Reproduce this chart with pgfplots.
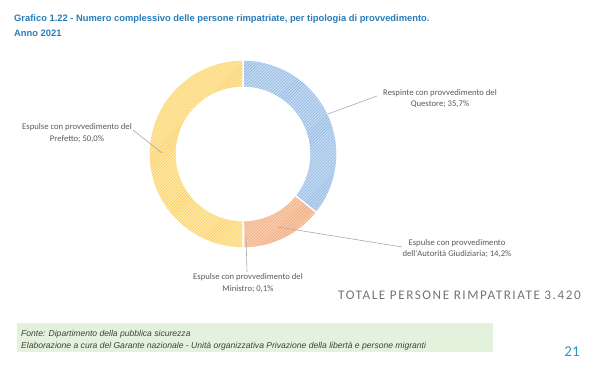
\documentclass[border=0pt]{standalone}
\usepackage{pgfplots}
\pgfplotsset{compat=1.18}
\usetikzlibrary{patterns}
\usepackage{fontspec}
\setmainfont{Liberation Sans}
\newfontfamily\lab{Carlito}
\newfontfamily\totfont[LetterSpace=12]{Carlito}
\definecolor{titleblue}{RGB}{38,124,184}
\definecolor{blueL}{RGB}{196,218,241}
\definecolor{blueD}{RGB}{132,176,224}
\definecolor{orL}{RGB}{249,207,178}
\definecolor{orD}{RGB}{238,155,105}
\definecolor{yeL}{RGB}{255,232,168}
\definecolor{yeD}{RGB}{247,200,80}
\definecolor{labgray}{RGB}{90,90,90}
\definecolor{leader}{RGB}{170,170,170}
\definecolor{boxgreen}{RGB}{228,241,221}
\definecolor{pagenum}{RGB}{45,150,190}
% data: share in percent (clockwise from the top)
% Respinte Questore 35.7 ; Autorita Giudiziaria 14.2 ; Ministro 0.1 ; Prefetto 50.0
\newcommand\slice[3]{% start, end (cumulative %), colours
  \addplot[draw=white, line width=1.1pt, fill=#3L,
    postaction={pattern=north east lines, pattern color=#3D},
    domain=#1:#2, samples=80, variable=\t]
    ({243+94*cos(90-3.6*\t)},{154-94*sin(90-3.6*\t)}) -- (axis cs:243,154) -- cycle;}
\begin{document}
\begin{tikzpicture}
\begin{axis}[scale only axis, width=600bp, height=382bp,
  xmin=0, xmax=600, ymin=0, ymax=382, y dir=reverse,
  hide axis, clip=false]
\slice{0}{35.7}{blue}
\slice{35.7}{49.9}{or}
\slice{49.9}{50.0}{ye}
\slice{50.0}{100}{ye}
\addplot[fill=white, draw=white, line width=0.5pt, domain=0:360, samples=120, variable=\t]
  ({243+67*cos(\t)},{154+67*sin(\t)}) -- cycle;
% leader lines
\draw[leader, line width=0.6pt] (axis cs:328,114) -- (axis cs:377,96);
\draw[leader, line width=0.6pt] (axis cs:278,227) -- (axis cs:402,247);
\draw[leader, line width=0.6pt] (axis cs:246,236) -- (axis cs:247,272);
\draw[leader, line width=0.6pt] (axis cs:133,130) -- (axis cs:162,153);
% labels
\node[align=center, text=labgray, font=\lab\fontsize{8.7}{11.5}\selectfont, inner sep=0] at (axis cs:440,98.5)
  {Respinte con provvedimento del\\Questore; 35,7\%};
\node[align=center, text=labgray, font=\lab\fontsize{8.7}{11.5}\selectfont, inner sep=0] at (axis cs:457,248.5)
  {Espulse con provvedimento\\dell'Autorità Giudiziaria; 14,2\%};
\node[align=center, text=labgray, font=\lab\fontsize{8.7}{11.5}\selectfont, inner sep=0] at (axis cs:248,283)
  {Espulse con provvedimento del\\Ministro; 0,1\%};
\node[align=center, text=labgray, font=\lab\fontsize{8.7}{11.5}\selectfont, inner sep=0] at (axis cs:77,133)
  {Espulse con provvedimento del\\Prefetto; 50,0\%};
% title
\node[anchor=west, align=left, text=titleblue, font=\bfseries\fontsize{9.4}{15}\selectfont, inner sep=0] at (axis cs:14,25.5)
  {Grafico 1.22 - Numero complessivo delle persone rimpatriate, per tipologia di provvedimento.\\Anno 2021};
% total
\node[anchor=east, text=black!55, font=\totfont\fontsize{13.2}{14}\selectfont, inner sep=0] at (axis cs:581,295)
  {TOTALE PERSONE RIMPATRIATE 3.420};
% footer box
\fill[boxgreen] (axis cs:17,323) rectangle (axis cs:493,352);
\node[anchor=west, align=left, text=black!75, font=\itshape\fontsize{8.6}{11.5}\selectfont, inner sep=0] at (axis cs:21,340.5)
  {Fonte: Dipartimento della pubblica sicurezza\\Elaborazione a cura del Garante nazionale - Unità organizzativa Privazione della libertà e persone migranti};
\node[text=pagenum, font=\lab\fontsize{15}{16}\selectfont, inner sep=0] at (axis cs:572,352) {21};
\end{axis}
\pgfresetboundingbox
\path (0,0) rectangle (600bp,382bp);
\end{tikzpicture}
\end{document}
